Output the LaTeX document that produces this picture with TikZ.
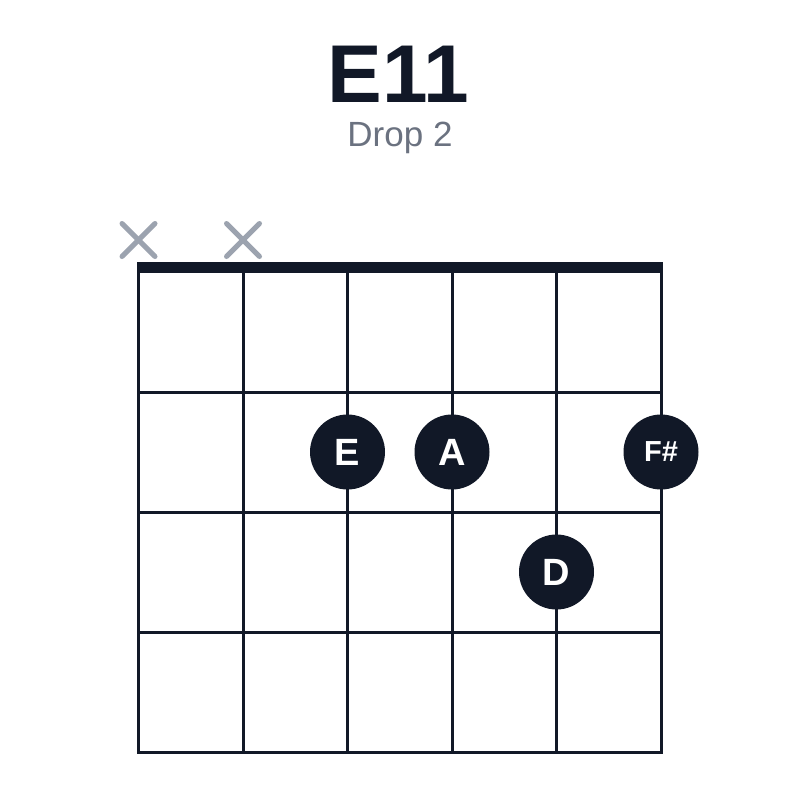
\documentclass[tikz,border=0pt]{standalone}
\usepackage{fontspec}
\setmainfont{Liberation Sans}
\definecolor{ink}{HTML}{111827}
\definecolor{mute}{HTML}{9CA3AF}
\definecolor{sub}{HTML}{6B7280}
\begin{document}
\begin{tikzpicture}[x=1bp,y=-1bp,
  stringline/.style={draw=ink,line width=3bp},
  nutline/.style={draw=ink,line width=11bp},
  xmark/.style={draw=mute,line width=5bp,line cap=round},
  fingerdot/.style={circle,fill=ink,minimum size=75bp,inner sep=0pt,text=white,font=\fontsize{38bp}{40bp}\selectfont\bfseries},
  smalldot/.style={fingerdot,font=\fontsize{29bp}{31bp}\selectfont\bfseries}]
\useasboundingbox[fill=white] (0,0) rectangle (800,800);
\node[anchor=base,text=ink,font=\fontsize{82bp}{90bp}\selectfont\bfseries,inner sep=0pt] (title) at (398,102) {E11};
\node[anchor=base,text=sub,font=\fontsize{35bp}{37bp}\selectfont,inner sep=0pt] (subtitle) at (400,146) {Drop 2};
% strings
\foreach \i/\x in {1/138.5,2/243,3/347.5,4/452,5/556.5,6/661}{
  \coordinate (s\i top) at (\x,268);
  \coordinate (s\i bot) at (\x,752);
  \draw[stringline] (s\i top) -- (s\i bot);
}
% frets
\foreach \j/\y in {1/392,2/512,3/632,4/752}{
  \coordinate (f\j l) at (137,\y);
  \coordinate (f\j r) at (662.5,\y);
  \draw[stringline] (f\j l) -- (f\j r);
}
% nut
\coordinate (nutl) at (137,267.5);
\coordinate (nutr) at (662.5,267.5);
\draw[nutline] (nutl) -- (nutr);
% muted strings
\foreach \i/\x in {1/138.5,2/243}{
  \coordinate (xa\i) at (\x-16.5,223.5);
  \coordinate (xb\i) at (\x+16.5,256.5);
  \coordinate (xc\i) at (\x-16.5,256.5);
  \coordinate (xd\i) at (\x+16.5,223.5);
  \draw[xmark] (xa\i) -- (xb\i);
  \draw[xmark] (xc\i) -- (xd\i);
}
% finger dots
\node[fingerdot] (dE) at (347.5,452) {E};
\node[fingerdot] (dA) at (452,452) {A};
\node[smalldot] (dF) at (661,452) {F\#};
\node[fingerdot] (dD) at (556.5,572) {D};
\end{tikzpicture}
\end{document}
